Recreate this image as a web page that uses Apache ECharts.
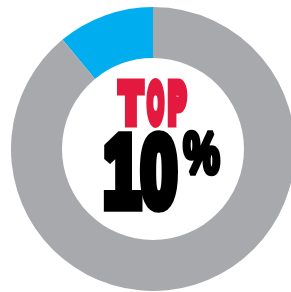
<!DOCTYPE html>
<html>
<head>
<meta charset="utf-8">
<script src="https://cdn.jsdelivr.net/npm/echarts@6/dist/echarts.min.js"></script>
<style>
  html, body { margin: 0; padding: 0; background: #fff; }
  #chart { width: 291px; height: 292px; }
</style>
</head>
<body>
<div id="chart"></div>
<script>
const categories = ['Top 10%', 'Rest'];
const values = [11, 89];
const colors = ['#00AEEF', '#A7A9AC'];
const headline = 'TOP';
const bigNumber = '10';
const unit = '%';

const chart = echarts.init(document.getElementById('chart'));

// one heavy condensed glyph: squeezed, stretched, thickened by a stroke
function glyph(ch, x, y, size, sx, sy, weight, color) {
    return {
        type: 'text',
        x: x, y: y,
        scaleX: sx,
        scaleY: sy,
        style: {
            text: ch,
            font: 'bold ' + size + 'px "Liberation Sans"',
            fill: color,
            stroke: color,
            lineWidth: weight,
            lineJoin: 'miter',
            textAlign: 'center',
            textVerticalAlign: 'middle'
        }
    };
}

const red = '#E3193F';
const headX = [131, 155.5, 177];
const headScale = [0.76, 0.44, 0.55];
const numX = [122, 159];
const numScale = [0.7, 0.68];

const graphics = [];
headline.split('').forEach((ch, i) => {
    graphics.push(glyph(ch, headX[i], 106.5, 47, headScale[i], 1.2, 9, red));
});
bigNumber.split('').forEach((ch, i) => {
    graphics.push(glyph(ch, numX[i], 178, 95, numScale[i], 1.06, 11, '#000'));
});
graphics.push(glyph(unit, 201.5, 157, 52, 0.78, 1.12, 5, '#000'));

const option = {
    animation: false,
    series: [{
        type: 'pie',
        center: [153, 149],
        radius: [91, 142],
        startAngle: 90,
        clockwise: false,
        silent: true,
        label: { show: false },
        labelLine: { show: false },
        data: categories.map((name, i) => ({
            name: name,
            value: values[i],
            itemStyle: { color: colors[i] }
        }))
    }],
    graphic: graphics
};

chart.setOption(option);
</script>
</body>
</html>
